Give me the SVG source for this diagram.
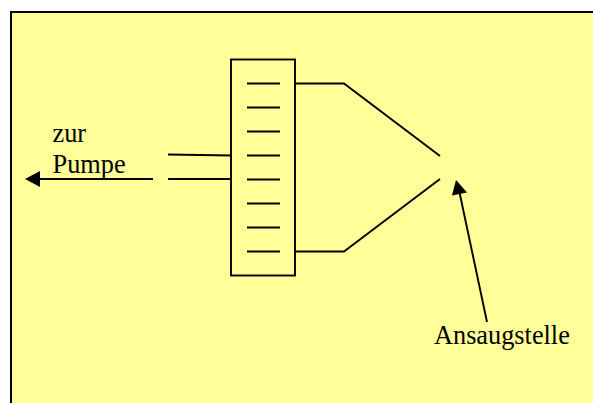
<svg xmlns="http://www.w3.org/2000/svg" width="593" height="403" viewBox="0 0 593 403">
<style>
.l{fill:none;stroke:#000;stroke-width:1.9}
.t{font-family:"Liberation Serif","Times New Roman",serif;font-size:26.3px;fill:#000}
.h{fill:#000;stroke:none}
</style>
<rect width="593" height="403" fill="#fff"/>
<path id="background" d="M593 12H11V403H593Z" fill="#ffff99"/>
<path d="M593 12H11V403" fill="none" stroke="#000" stroke-width="2"/>
<g id="connectors">
<path class="l" d="M168 154.500L231 155.500M168 179H231"/>
<path class="l" d="M153 179H38"/>
<polygon class="h" points="25,179 40,171 40,187"/>
<path class="l" d="M295 83.500H344L440 156"/>
<path class="l" d="M295 251.500H344L440 179"/>
<path class="l" d="M487 322L459 190"/>
<polygon class="h" points="456,180 467,192.500 452,195.500"/>
</g>
<g id="filter">
<rect class="l" x="231" y="59.500" width="64" height="216" fill="#ffff99"/>
<path class="l" d="M247 83.500H280M247 107.500H280M247 131.500H280M247 155.500H280M247 179.500H280M247 203.500H280M247 227.500H280M247 251.500H280"/>
</g>
<g id="label-pumpe">
<text class="t" x="52.500" y="142">zur</text>
<text class="t" x="52.500" y="172.500">Pumpe</text>
</g>
<g id="label-ansaugstelle">
<text class="t" x="434" y="344">Ansaugstelle</text>
</g>
</svg>
